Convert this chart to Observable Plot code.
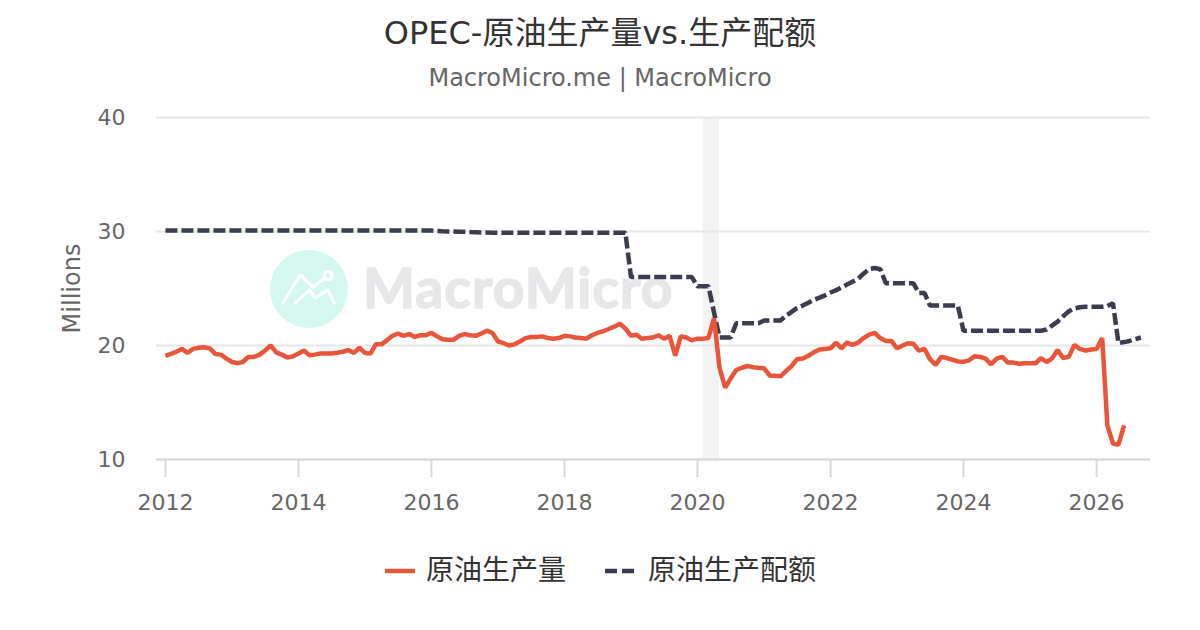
<!DOCTYPE html>
<html><head><meta charset="utf-8">
<script src="https://cdn.jsdelivr.net/npm/d3@7"></script>
<script src="https://cdn.jsdelivr.net/npm/@observablehq/plot@0.6"></script>
<style>
html,body{margin:0;padding:0;background:#fff;width:1200px;height:630px;overflow:hidden}
body{font-family:"DejaVu Sans","Noto Sans CJK SC",sans-serif;position:relative}
#title{position:absolute;left:0;width:1200px;top:12px;text-align:center;font-size:32px;line-height:42px;color:#333}
#sub{position:absolute;left:0;width:1200px;top:62px;text-align:center;font-size:24px;line-height:32px;color:#666}
#wm{position:absolute;left:0;top:0;width:1200px;height:630px}
#chart{position:absolute;left:0;top:100px}
#chart g[aria-label="y-axis label"]{font-size:24px}
#legend{position:absolute;left:0;top:549px;width:1200px;height:44px;font-size:28px;line-height:44px;color:#333}
#legend span{position:absolute;top:0;white-space:nowrap}
#legend svg{position:absolute;top:0}
</style></head><body>
<svg id="wm" viewBox="0 0 1200 630">
<circle cx="309" cy="289" r="39" fill="#d4f7f0"/>
<g fill="none" stroke="#fff" stroke-width="3.2" stroke-linecap="round" stroke-linejoin="round">
<polyline points="283,303 300,275 313,287 325,278"/>
<polyline points="295,303 310,290 315,298 328,290 334,303"/>
<circle cx="328" cy="275.5" r="4"/>
</g>
<text x="363" y="308" font-family="Lato" font-weight="700" font-size="55" letter-spacing="1.1" fill="#e6e7e9" stroke="#e6e7e9" stroke-width="1.6" stroke-linejoin="round">MacroMicro</text>
</svg>
<div id="title">OPEC-原油生产量vs.生产配额</div>
<div id="sub">MacroMicro.me | MacroMicro</div>
<div id="chart"></div>
<div id="legend">
<svg width="1200" height="44"><line x1="385" x2="415" y1="22" y2="22" stroke="#e9553a" stroke-width="4.5"/><line x1="605" x2="635" y1="22" y2="22" stroke="#3a3d4d" stroke-width="4.5" stroke-dasharray="12 5"/></svg>
<span id="l1" style="left:426px">原油生产量</span><span id="l2" style="left:648px">原油生产配额</span>
</div>
<script>
const production = [
19.1,19.27,19.45,19.7,19.35,19.7,19.8,19.85,19.75,19.25,19.2,18.85,
18.55,18.45,18.55,19.0,19.0,19.2,19.55,20.0,19.4,19.2,18.95,19.05,
19.3,19.55,19.15,19.2,19.3,19.3,19.3,19.37,19.45,19.6,19.35,19.8,
19.35,19.3,20.1,20.1,20.45,20.85,21.05,20.85,21.0,20.75,20.9,20.9,
21.1,20.8,20.55,20.5,20.5,20.85,21.0,20.9,20.85,21.05,21.3,21.1,
20.35,20.2,20.0,20.1,20.35,20.65,20.75,20.75,20.8,20.65,20.6,20.65,
20.85,20.8,20.7,20.65,20.6,20.9,21.1,21.25,21.45,21.65,21.9,21.5,
20.85,20.95,20.6,20.65,20.7,20.9,20.6,20.85,19.1,20.8,20.7,20.45,
20.6,20.6,20.65,22.4,18.05,16.3,17.1,17.85,18.05,18.2,18.1,18.05,
18.0,17.35,17.35,17.3,17.75,18.2,18.8,18.85,19.1,19.4,19.65,19.7,
19.75,20.25,19.75,20.25,20.05,20.25,20.65,20.95,21.1,20.65,20.4,20.4,
19.75,20.0,20.2,20.15,19.55,19.7,18.8,18.3,19.0,18.9,18.75,18.6,
18.57,18.7,19.05,19.0,18.85,18.35,18.85,19.0,18.5,18.5,18.4,18.45,
18.45,18.45,18.9,18.55,18.85,19.6,18.9,19.0,20.05,19.7,19.55,19.65,
19.7,20.65,13.0,11.4,11.3,13.0];
const quota = [
30.08,30.08,30.08,30.08,30.08,30.08,30.08,30.08,30.08,30.08,30.08,30.08,
30.08,30.08,30.08,30.08,30.08,30.08,30.08,30.08,30.08,30.08,30.08,30.08,
30.08,30.08,30.08,30.08,30.08,30.08,30.08,30.08,30.08,30.08,30.08,30.08,
30.08,30.08,30.08,30.08,30.08,30.08,30.08,30.08,30.08,30.08,30.08,30.08,
30.08,30.05,30.03,30.01,30.0,29.98,29.97,29.95,29.94,29.92,29.91,29.9,
29.9,29.9,29.9,29.9,29.9,29.9,29.9,29.9,29.9,29.9,29.9,29.9,
29.9,29.9,29.9,29.9,29.9,29.9,29.9,29.9,29.9,29.9,29.9,29.9,
26.0,26.0,26.0,26.0,26.0,26.0,26.0,26.0,26.0,26.0,26.0,26.0,
25.2,25.2,25.2,22.9,20.7,20.7,20.7,21.95,21.95,21.95,21.95,21.95,
22.2,22.2,22.2,22.2,22.6,22.95,23.3,23.5,23.75,24.0,24.2,24.4,
24.65,24.85,25.1,25.35,25.6,25.85,26.3,26.7,26.8,26.7,25.45,25.45,
25.45,25.45,25.45,25.45,24.6,24.6,23.5,23.5,23.5,23.5,23.5,23.5,
21.3,21.3,21.3,21.3,21.3,21.3,21.3,21.3,21.3,21.3,21.3,21.3,
21.3,21.3,21.3,21.4,21.75,22.1,22.55,23.0,23.25,23.35,23.4,23.4,
23.4,23.4,23.45,23.7,20.2,20.3,20.4,20.55,20.7];
const startYear = 2012;
const recession = [{from:"2020-02-01", to:"2020-05-01"}];
const xTicks = [2012,2014,2016,2018,2020,2022,2024,2026];
const yTicks = [10,20,30,40];
const xDomain = ["2011-11-13","2026-10-24"];
const RED="#e9553a", DARK="#3a3d4d", GREY="#666";
const month = i => new Date(Date.UTC(startYear, i, 1));
const rows = a => a.map((v,i)=>({date:month(i),value:v}));
const chart = Plot.plot({
  width:1200, height:430, marginLeft:156, marginRight:50, marginTop:17, marginBottom:71,
  style:{background:"transparent",fontFamily:'"DejaVu Sans",sans-serif',overflow:"visible"},
  x:{type:"utc",domain:xDomain.map(d=>new Date(d))},
  y:{domain:[10,40]},
  marks:[
    Plot.rectX(recession,{x1:d=>new Date(d.from),x2:d=>new Date(d.to),y1:10,y2:40,fill:"#f3f3f3"}),
    Plot.gridY(yTicks,{stroke:"#e6e6e6",strokeWidth:2,strokeOpacity:1}),
    Plot.ruleY([10],{stroke:"#d8d8d8",strokeWidth:2}),
    Plot.axisX({ticks:xTicks.map(y=>new Date(Date.UTC(y,0,1))),tickFormat:d3.utcFormat("%Y"),tickSize:18,tickPadding:17,fontSize:22,color:GREY,stroke:"#d8d8d8",strokeWidth:2,label:null}),
    Plot.axisY({ticks:yTicks,tickSize:0,tickPadding:31,fontSize:22,color:GREY,label:"Millions",labelAnchor:"center",labelArrow:"none",labelOffset:94}),
    Plot.line(rows(quota),{x:"date",y:"value",stroke:DARK,strokeWidth:4.5,strokeDasharray:"12 4",strokeLinecap:"butt",strokeLinejoin:"miter"}),
    Plot.line(rows(production),{x:"date",y:"value",stroke:RED,strokeWidth:4.5,strokeLinecap:"butt",strokeLinejoin:"miter"})
  ]
});
document.getElementById("chart").appendChild(chart);
</script>
</body></html>
